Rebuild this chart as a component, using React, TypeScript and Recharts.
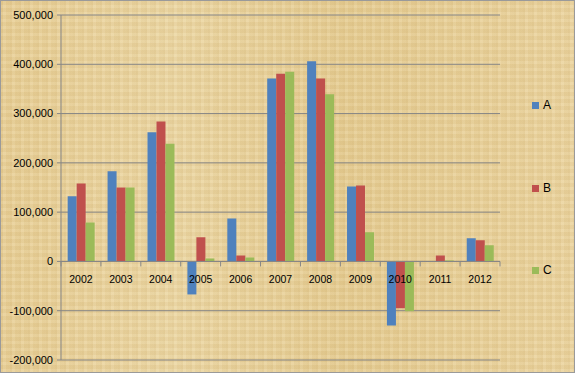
import * as React from 'react'
import { BarChart, Bar, XAxis, YAxis, CartesianGrid, ReferenceLine } from 'recharts'

const years = ['2002', '2003', '2004', '2005', '2006', '2007', '2008', '2009', '2010', '2011', '2012']
const seriesA = [132000, 183000, 262000, -67000, 87000, 371000, 406000, 152000, -130000, 0, 47000]
const seriesB = [158000, 150000, 284000, 49000, 12000, 381000, 371000, 154000, -95000, 12000, 43000]
const seriesC = [79000, 150000, 239000, 6000, 8000, 385000, 339000, 59000, -101000, 2000, 33000]
const yTicks = [-200000, -100000, 0, 100000, 200000, 300000, 400000, 500000]

const COLORS = { A: '#4F81BD', B: '#C0504D', C: '#9BBB59' }
const FONT = '"Liberation Sans", Arial, sans-serif'

const W = 575
const H = 373
const M = { top: 15, right: 75, bottom: 0, left: 0 }
const X_AXIS_H = 13
const Y_MIN = -200000
const Y_MAX = 500000

const data = years.map((y, i) => ({ year: y, A: seriesA[i], B: seriesB[i], C: seriesC[i] }))

const plotH = H - M.top - M.bottom - X_AXIS_H
const plotW = W - M.right - 61
const band = plotW / years.length
// zero line position, from the y domain
const zeroY = M.top + (plotH * Y_MAX) / (Y_MAX - Y_MIN)

function CategoryTick(props: any) {
  const { x, payload, index } = props
  const bx = x - band / 2
  return (
    <g>
      <line x1={bx} x2={bx} y1={zeroY} y2={zeroY + 5} stroke="#868686" />
      {index === years.length - 1 ? (
        <line x1={x + band / 2} x2={x + band / 2} y1={zeroY} y2={zeroY + 5} stroke="#868686" />
      ) : null}
      <text x={x} y={zeroY + 22} textAnchor="middle" fontSize={10.5} fontFamily={FONT} fill="#000">
        {payload.value}
      </text>
    </g>
  )
}

const legendItems = [
  { label: 'A', color: COLORS.A, top: 105 },
  { label: 'B', color: COLORS.B, top: 188 },
  { label: 'C', color: COLORS.C, top: 270 },
]

const texture =
  'repeating-linear-gradient(90deg, rgba(160,120,50,0.07) 0px, rgba(160,120,50,0.07) 2px, rgba(255,255,255,0.05) 2px, rgba(255,255,255,0.05) 5px, rgba(150,110,40,0.04) 5px, rgba(150,110,40,0.04) 9px),' +
  'repeating-linear-gradient(0deg, rgba(255,250,230,0.08) 0px, rgba(255,250,230,0.08) 3px, rgba(160,120,50,0.05) 3px, rgba(160,120,50,0.05) 7px),' +
  'linear-gradient(90deg, #E8CF96, #ECD7A4 30%, #E6CD93 60%, #EBD49F)'

export default function App() {
  return (
    <div
      style={{
        position: 'absolute',
        left: 0,
        top: 0,
        width: W,
        height: H,
        boxSizing: 'border-box',
        border: '1px solid #9a9a9a',
        background: texture,
        overflow: 'hidden',
      }}
    >
      <div style={{ position: 'absolute', left: -1, top: -1 }}>
        <BarChart width={W} height={H} data={data} margin={M} barCategoryGap="16.7%" barGap={0}>
          <CartesianGrid vertical={false} stroke="#868686" strokeWidth={1} />
          <ReferenceLine y={0} stroke="#868686" />
          <Bar dataKey="A" fill={COLORS.A} isAnimationActive={false} />
          <Bar dataKey="B" fill={COLORS.B} isAnimationActive={false} />
          <Bar dataKey="C" fill={COLORS.C} isAnimationActive={false} />
          <XAxis
            dataKey="year"
            axisLine={false}
            tickLine={false}
            height={X_AXIS_H}
            interval={0}
            tick={CategoryTick}
          />
          <YAxis
            width={61}
            domain={[Y_MIN, Y_MAX]}
            ticks={yTicks}
            allowDataOverflow
            stroke="#868686"
            tickSize={4}
            tickMargin={4}
            tick={{ fontSize: 11, fontFamily: FONT, fill: '#000' }}
            tickFormatter={(v: number) => v.toLocaleString('en-US')}
          />
        </BarChart>
      </div>
      {legendItems.map((it) => (
        <div
          key={it.label}
          style={{
            position: 'absolute',
            left: 531,
            top: it.top - 8,
            display: 'flex',
            alignItems: 'center',
            gap: 4,
            fontFamily: FONT,
            fontSize: 12,
            color: '#000',
          }}
        >
          <div style={{ width: 7, height: 7, background: it.color }} />
          <div>{it.label}</div>
        </div>
      ))}
    </div>
  )
}
